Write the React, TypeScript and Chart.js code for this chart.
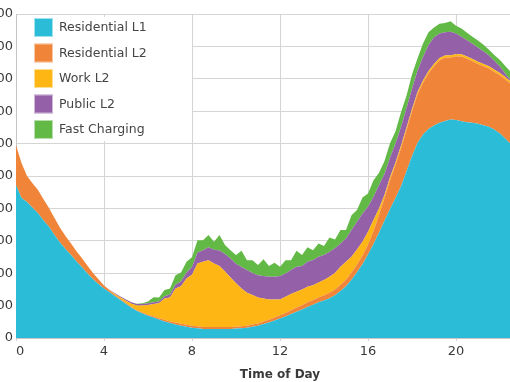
import React, { useEffect, useRef } from "react";
import { Chart, registerables } from "chart.js";

Chart.register(...registerables);

const seriesNames = ["Residential L1", "Residential L2", "Work L2", "Public L2", "Fast Charging"];
const seriesColors = ["#2bbcd8", "#f0853a", "#fdb614", "#9461a9", "#63b946"];

const xTicks = [0, 4, 8, 12, 16, 20, 24];
const yTicks = [0, 100, 200, 300, 400, 500, 600, 700, 800, 900, 1000];

const timeOfDay = [
  0, 0.25, 0.5, 0.75, 1, 1.25, 1.5, 1.75, 2, 2.25, 2.5, 2.75,
  3, 3.25, 3.5, 3.75, 4, 4.25, 4.5, 4.75, 5, 5.25, 5.5, 5.75,
  6, 6.25, 6.5, 6.75, 7, 7.25, 7.5, 7.75, 8, 8.25, 8.5, 8.75,
  9, 9.25, 9.5, 9.75, 10, 10.25, 10.5, 10.75, 11, 11.25, 11.5, 11.75,
  12, 12.25, 12.5, 12.75, 13, 13.25, 13.5, 13.75, 14, 14.25, 14.5, 14.75,
  15, 15.25, 15.5, 15.75, 16, 16.25, 16.5, 16.75, 17, 17.25, 17.5, 17.75,
  18, 18.25, 18.5, 18.75, 19, 19.25, 19.5, 19.75, 20, 20.25, 20.5, 20.75,
  21, 21.25, 21.5, 21.75, 22, 22.25, 22.5, 22.75, 23, 23.25, 23.5, 23.75, 24,
];

const residentialL1 = [
  472, 432, 420, 402, 385, 363, 343, 318, 295, 275, 256, 236,
  218, 199, 181, 167, 153, 141, 129, 117, 105, 93, 83, 76,
  69, 63, 57, 51, 46, 42, 38, 35, 32, 30, 28, 28,
  28, 28, 28, 28, 29, 30, 32, 35, 38, 43, 48, 54,
  60, 66, 74, 81, 88, 96, 103, 110, 116, 123, 132, 145,
  160, 180, 203, 228, 258, 290, 325, 362, 398, 432, 468, 515,
  562, 602, 628, 645, 656, 664, 670, 674, 673, 669, 666, 664,
  661, 657, 652, 643, 631, 615, 598, 580, 560, 541, 522, 500, 478,
];

const residentialL2 = [
  123, 108, 80, 76, 72, 65, 58, 52, 45, 40, 36, 32,
  28, 24, 20, 14, 9, 6, 4, 3, 3, 3, 3, 3,
  3, 4, 4, 5, 5, 6, 6, 6, 6, 6, 6, 6,
  6, 6, 6, 6, 6, 6, 6, 7, 7, 8, 8, 9,
  10, 11, 12, 13, 13, 14, 14, 15, 16, 17, 18, 19,
  20, 22, 24, 27, 30, 40, 55, 70, 90, 103, 118, 128,
  138, 150, 160, 172, 183, 193, 195, 192, 196, 200, 196, 190,
  185, 182, 180, 178, 180, 183, 186, 182, 175, 165, 155, 140, 123,
];

const workL2 = [
  0, 0, 0, 0, 0, 0, 0, 0, 0, 0, 0, 0,
  0, 0, 0, 0, 0, 1, 3, 5, 7, 10, 14, 21,
  30, 38, 46, 66, 74, 105, 116, 143, 157, 194, 201, 206,
  196, 188, 171, 153, 134, 117, 102, 91, 80, 71, 63, 56,
  49, 50, 50, 49, 49, 48, 46, 46, 47, 49, 51, 56,
  55, 49, 46, 42, 40, 34, 20, 9, 8, 7, 7, 7,
  7, 7, 7, 7, 7, 7, 7, 7, 7, 7, 7, 7,
  7, 7, 7, 7, 7, 7, 7, 6, 5, 4, 3, 2, 0,
];

const publicL2 = [
  0, 0, 0, 0, 0, 0, 0, 0, 0, 0, 0, 0,
  0, 0, 0, 0, 0, 1, 2, 3, 4, 4, 5, 5,
  5, 5, 6, 7, 9, 12, 14, 18, 24, 34, 36, 40,
  42, 48, 54, 58, 60, 66, 70, 68, 69, 69, 70, 70,
  72, 72, 74, 77, 72, 77, 78, 80, 77, 77, 76, 72,
  72, 82, 86, 87, 77, 72, 72, 65, 60, 58, 58, 60,
  62, 66, 72, 80, 82, 76, 72, 72, 64, 54, 50, 47,
  43, 39, 33, 27, 20, 10, 4, 3, 2, 2, 1, 1, 0,
];

const fastCharging = [
  0, 0, 0, 0, 0, 0, 0, 0, 0, 0, 0, 0,
  0, 0, 0, 0, 0, 0, 0, 0, 0, 0, 1, 2,
  6, 16, 12, 19, 19, 29, 28, 33, 30, 38, 31, 38,
  25, 48, 28, 26, 27, 50, 30, 39, 31, 52, 33, 43,
  29, 41, 30, 49, 34, 45, 30, 41, 28, 44, 27, 41,
  26, 46, 36, 50, 41, 51, 38, 40, 45, 38, 46, 38,
  44, 38, 42, 40, 30, 30, 28, 33, 24, 25, 23, 22,
  22, 20, 18, 18, 20, 24, 25, 20, 15, 10, 6, 3, 0,
];

const seriesValues = [residentialL1, residentialL2, workL2, publicL2, fastCharging];

const FONT = '"DejaVu Sans", sans-serif';

const insideLegend = {
  id: "insideLegend",
  afterDraw(chart: any) {
    const ctx = chart.ctx;
    const { left, top } = chart.chartArea;
    ctx.save();
    ctx.fillStyle = "#ffffff";
    ctx.fillRect(left + 1, top + 3, 175, 124);
    ctx.font = "12.5px " + FONT;
    ctx.textBaseline = "middle";
    ctx.textAlign = "left";
    chart.data.datasets.forEach((ds: any, i: number) => {
      const cy = top + 13.5 + i * 25.5;
      const bx = left + 18;
      ctx.fillStyle = ds.backgroundColor;
      ctx.fillRect(bx, cy - 9.5, 19, 19);
      ctx.strokeStyle = "rgba(255,255,255,0.55)";
      ctx.lineWidth = 1;
      ctx.strokeRect(bx + 0.5, cy - 9, 18, 18);
      ctx.fillStyle = "#454545";
      ctx.fillText(ds.label, left + 43, cy + 0.5);
    });
    ctx.restore();
  },
};

export default function App() {
  const ref = useRef<HTMLCanvasElement | null>(null);

  useEffect(() => {
    if (!ref.current) return;
    const datasets = seriesNames.map((name, s) => ({
      label: name,
      data: timeOfDay.map((t, i) => ({ x: t, y: seriesValues[s][i] })),
      backgroundColor: seriesColors[s],
      borderColor: seriesColors[s],
      borderWidth: 0,
      pointRadius: 0,
      tension: 0,
      fill: s === 0 ? "origin" : "-1",
    }));

    const chart = new Chart(ref.current, {
      type: "line",
      data: { datasets },
      plugins: [insideLegend],
      options: {
        responsive: false,
        animation: false,
        layout: { padding: { left: 0, right: 20, top: 14, bottom: 0 } },
        plugins: {
          legend: { display: false },
          tooltip: { enabled: false },
        },
        scales: {
          x: {
            type: "linear",
            min: 0,
            max: 24,
            afterBuildTicks: (scale: any) => {
              scale.ticks = xTicks.map((v) => ({ value: v }));
            },
            afterFit: (scale: any) => {
              scale.height = 48;
            },
            grid: { color: "#d5d5d5", tickLength: 3, drawTicks: true },
            border: { display: true, color: "#c6c6c6" },
            ticks: {
              color: "#3a3a3a",
              padding: 3,
              maxRotation: 0,
              font: { family: FONT, size: 13 },
              callback: (v: any) => (Number(v) === 0 ? "\u20070" : String(v)),
            },
            title: {
              display: true,
              text: "Time of Day",
              color: "#3a3a3a",
              font: { family: FONT, size: 12, weight: "bold" },
              padding: { top: 0, bottom: 4 },
            },
          },
          y: {
            stacked: true,
            min: 0,
            max: 1000,
            afterBuildTicks: (scale: any) => {
              scale.ticks = yTicks.map((v) => ({ value: v }));
            },
            afterFit: (scale: any) => {
              scale.width = 50;
            },
            grid: { color: "#d5d5d5", drawTicks: false },
            border: { display: true, color: "#c6c6c6" },
            ticks: {
              color: "#3a3a3a",
              padding: 3,
              font: { family: FONT, size: 13 },
            },
          },
        },
      },
    } as any);
    return () => chart.destroy();
  }, []);

  return (
    <div
      style={{
        position: "fixed",
        left: 0,
        top: 0,
        width: 510,
        height: 382,
        overflow: "hidden",
        background: "#ffffff",
      }}
    >
      <canvas
        ref={ref}
        width={598}
        height={386}
        style={{ position: "absolute", left: -34, top: 0, width: 598, height: 386 }}
      />
    </div>
  );
}
